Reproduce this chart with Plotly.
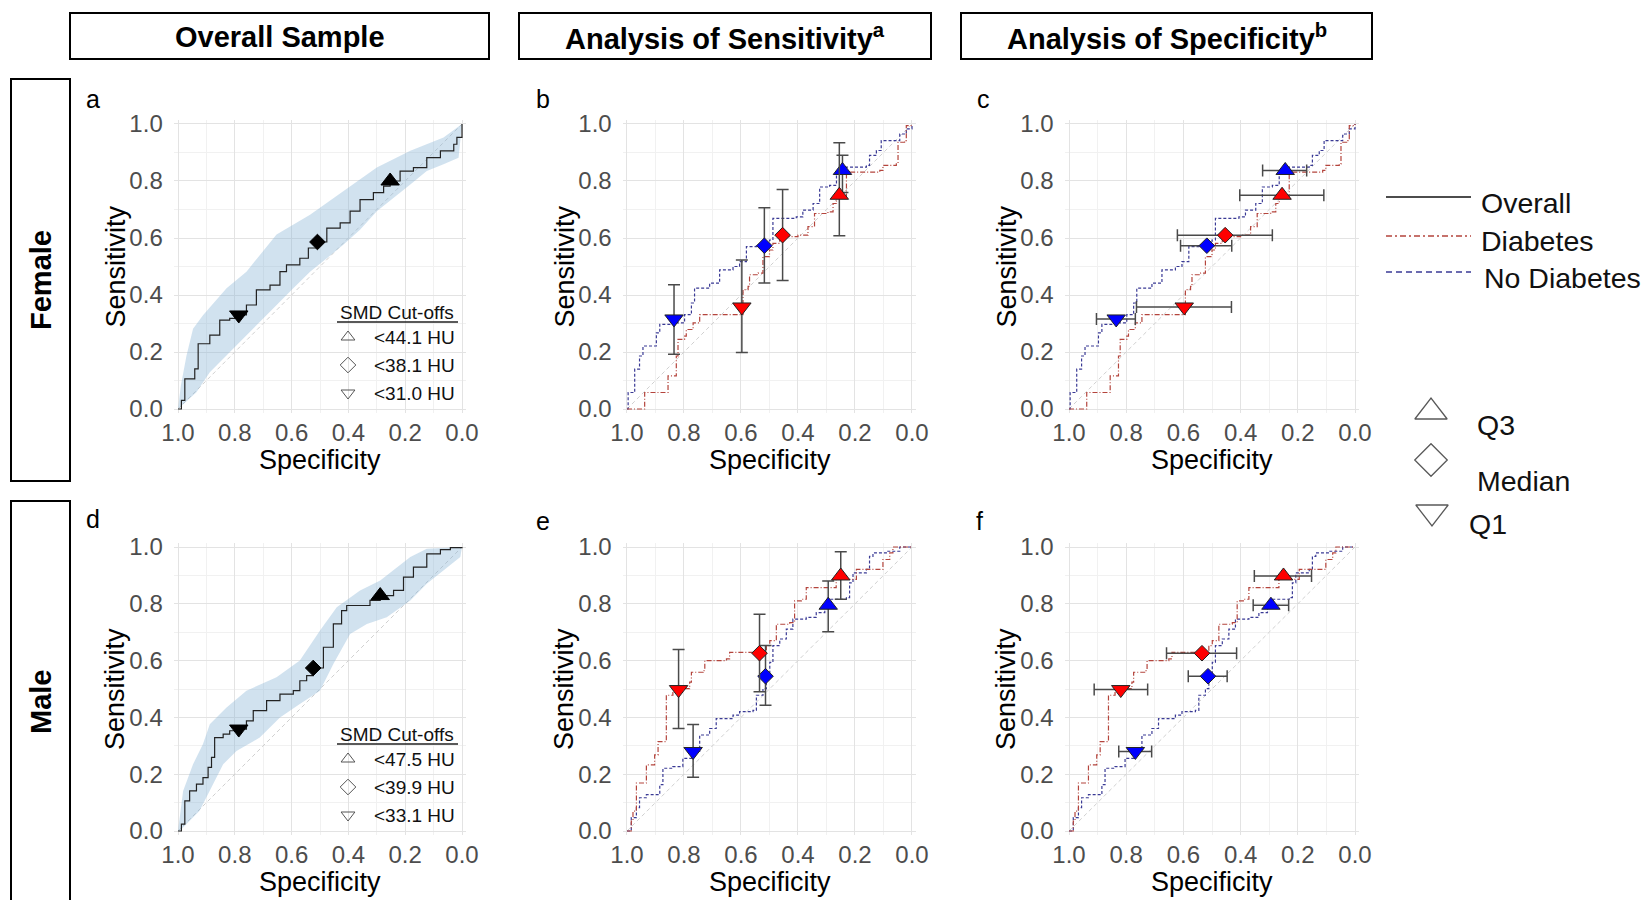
import plotly.graph_objects as go

W, H = 1648, 900

# ---------------- DATA ----------------
# Panel a: female, overall ROC (specificity, sensitivity)
fa_spec = [1.0, 0.988, 0.976, 0.941, 0.929, 0.888, 0.853, 0.818, 0.786, 0.759, 0.724, 0.676, 0.641, 0.618, 0.571, 0.541, 0.509, 0.476, 0.429, 0.394, 0.359, 0.312, 0.276, 0.253, 0.218, 0.171, 0.124, 0.076, 0.029, 0.018, 0.0]
fa_sens = [0.0, 0.03, 0.106, 0.141, 0.229, 0.259, 0.312, 0.318, 0.33, 0.365, 0.418, 0.435, 0.482, 0.506, 0.529, 0.565, 0.586, 0.635, 0.653, 0.694, 0.735, 0.759, 0.782, 0.8, 0.835, 0.847, 0.882, 0.906, 0.929, 0.953, 1.0]
fa_up_spec = [1.0, 0.99, 0.97, 0.947, 0.912, 0.829, 0.759, 0.653, 0.535, 0.418, 0.3, 0.182, 0.065, 0.0]
fa_up_sens = [0.0, 0.082, 0.188, 0.282, 0.329, 0.424, 0.482, 0.612, 0.682, 0.765, 0.847, 0.906, 0.953, 1.0]
fa_lo_spec = [1.0, 0.935, 0.888, 0.829, 0.771, 0.712, 0.653, 0.594, 0.535, 0.476, 0.418, 0.359, 0.3, 0.241, 0.182, 0.124, 0.065, 0.012, 0.0]
fa_lo_sens = [0.0, 0.059, 0.129, 0.188, 0.247, 0.306, 0.365, 0.424, 0.482, 0.529, 0.576, 0.629, 0.694, 0.741, 0.788, 0.835, 0.859, 0.882, 1.0]
fa_q_spec = [0.253, 0.509, 0.786]
fa_q_sens = [0.80, 0.586, 0.33]

# Panel d: male, overall ROC
md_spec = [1.0, 0.988, 0.976, 0.959, 0.935, 0.912, 0.894, 0.882, 0.871, 0.841, 0.818, 0.786, 0.759, 0.735, 0.688, 0.641, 0.594, 0.571, 0.547, 0.524, 0.488, 0.453, 0.424, 0.406, 0.359, 0.324, 0.288, 0.241, 0.206, 0.171, 0.124, 0.076, 0.041, 0.0]
md_sens = [0.0, 0.024, 0.106, 0.141, 0.165, 0.188, 0.224, 0.259, 0.329, 0.341, 0.353, 0.359, 0.388, 0.424, 0.459, 0.482, 0.494, 0.529, 0.547, 0.574, 0.647, 0.729, 0.776, 0.794, 0.794, 0.812, 0.829, 0.847, 0.894, 0.929, 0.976, 0.991, 0.998, 1.0]
md_up_spec = [1.0, 0.982, 0.947, 0.912, 0.888, 0.829, 0.759, 0.653, 0.571, 0.5, 0.441, 0.359, 0.288, 0.182, 0.124, 0.0]
md_up_sens = [0.0, 0.141, 0.235, 0.306, 0.376, 0.435, 0.494, 0.541, 0.6, 0.706, 0.788, 0.847, 0.882, 0.965, 0.994, 1.0]
md_lo_spec = [0.994, 0.924, 0.876, 0.841, 0.794, 0.712, 0.641, 0.571, 0.5, 0.453, 0.394, 0.335, 0.265, 0.182, 0.124, 0.065, 0.006, 0.0]
md_lo_sens = [0.0, 0.071, 0.165, 0.235, 0.282, 0.329, 0.4, 0.447, 0.494, 0.588, 0.694, 0.729, 0.753, 0.812, 0.871, 0.918, 0.965, 1.0]
md_q_spec = [0.288, 0.524, 0.786]
md_q_sens = [0.829, 0.574, 0.359]

# Female, by diabetes status (panels b, c)
f_nd_spec = [1.0, 0.996, 0.979, 0.973, 0.956, 0.944, 0.909, 0.897, 0.885, 0.839, 0.798, 0.774, 0.763, 0.71, 0.687, 0.675, 0.628, 0.605, 0.581, 0.546, 0.523, 0.5, 0.488, 0.406, 0.383, 0.347, 0.324, 0.289, 0.265, 0.23, 0.16, 0.149, 0.125, 0.108, 0.055, 0.043, 0.02, 0.0]
f_nd_sens = [0.0, 0.058, 0.058, 0.14, 0.186, 0.221, 0.221, 0.267, 0.297, 0.302, 0.331, 0.372, 0.424, 0.442, 0.442, 0.488, 0.5, 0.517, 0.57, 0.576, 0.581, 0.593, 0.669, 0.674, 0.698, 0.721, 0.779, 0.785, 0.826, 0.849, 0.855, 0.89, 0.907, 0.942, 0.942, 0.965, 0.983, 1.0]
f_d_spec = [1.0, 0.944, 0.938, 0.885, 0.856, 0.827, 0.827, 0.821, 0.798, 0.792, 0.768, 0.745, 0.611, 0.593, 0.575, 0.57, 0.54, 0.523, 0.5, 0.488, 0.464, 0.4, 0.365, 0.342, 0.295, 0.277, 0.265, 0.23, 0.113, 0.102, 0.055, 0.049, 0.026, 0.02, 0.0]
f_d_sens = [0.0, 0.0, 0.058, 0.058, 0.116, 0.116, 0.186, 0.244, 0.256, 0.279, 0.302, 0.331, 0.331, 0.419, 0.43, 0.471, 0.477, 0.535, 0.558, 0.581, 0.605, 0.61, 0.64, 0.686, 0.692, 0.721, 0.744, 0.831, 0.837, 0.855, 0.86, 0.936, 0.942, 0.994, 1.0]
f_d_q_spec = [0.255, 0.454, 0.597]
f_d_q_sens = [0.75, 0.61, 0.358]
f_nd_q_spec = [0.244, 0.518, 0.835]
f_nd_q_sens = [0.837, 0.573, 0.316]
f_d_sens_lo = [0.608, 0.451, 0.198]
f_d_sens_hi = [0.934, 0.77, 0.523]
f_nd_sens_lo = [0.76, 0.442, 0.192]
f_nd_sens_hi = [0.89, 0.706, 0.436]
f_d_spec_lo = [0.109, 0.289, 0.432]
f_d_spec_hi = [0.403, 0.621, 0.764]
f_nd_spec_lo = [0.169, 0.431, 0.768]
f_nd_spec_hi = [0.323, 0.61, 0.904]

# Male, by diabetes status (panels e, f)
m_d_spec = [1.0, 0.985, 0.979, 0.967, 0.967, 0.938, 0.932, 0.909, 0.903, 0.891, 0.868, 0.862, 0.839, 0.827, 0.78, 0.774, 0.733, 0.727, 0.651, 0.64, 0.558, 0.511, 0.499, 0.476, 0.429, 0.412, 0.388, 0.371, 0.277, 0.266, 0.195, 0.125, 0.102, 0.078, 0.067, 0.0]
m_d_sens = [0.0, 0.035, 0.07, 0.105, 0.169, 0.169, 0.233, 0.233, 0.268, 0.315, 0.315, 0.478, 0.495, 0.501, 0.524, 0.559, 0.565, 0.6, 0.606, 0.629, 0.629, 0.653, 0.67, 0.728, 0.734, 0.81, 0.816, 0.857, 0.857, 0.886, 0.921, 0.921, 0.956, 0.979, 1.0, 1.0]
m_nd_spec = [1.0, 0.985, 0.967, 0.956, 0.932, 0.903, 0.885, 0.874, 0.839, 0.804, 0.768, 0.745, 0.71, 0.687, 0.628, 0.605, 0.558, 0.546, 0.523, 0.511, 0.499, 0.488, 0.464, 0.441, 0.418, 0.371, 0.336, 0.306, 0.289, 0.23, 0.219, 0.207, 0.16, 0.149, 0.137, 0.09, 0.043, 0.0]
m_nd_sens = [0.0, 0.047, 0.082, 0.117, 0.128, 0.128, 0.163, 0.221, 0.227, 0.256, 0.28, 0.338, 0.361, 0.396, 0.408, 0.42, 0.425, 0.478, 0.501, 0.548, 0.594, 0.653, 0.676, 0.711, 0.746, 0.752, 0.769, 0.793, 0.816, 0.822, 0.874, 0.909, 0.921, 0.967, 0.979, 0.985, 1.0, 1.0]
m_d_q_spec = [0.25, 0.535, 0.819]
m_d_q_sens = [0.898, 0.626, 0.498]
m_nd_q_spec = [0.294, 0.514, 0.768]
m_nd_q_sens = [0.795, 0.545, 0.28]
m_d_sens_lo = [0.816, 0.49, 0.361]
m_d_sens_hi = [0.983, 0.763, 0.639]
m_nd_sens_lo = [0.702, 0.443, 0.189]
m_nd_sens_hi = [0.88, 0.653, 0.375]
m_d_spec_lo = [0.152, 0.414, 0.725]
m_d_spec_hi = [0.352, 0.659, 0.912]
m_nd_spec_lo = [0.232, 0.447, 0.711]
m_nd_spec_hi = [0.356, 0.583, 0.826]

quartile_symbols = ["triangle-up", "diamond", "triangle-down"]
quartile_sizes = [16, 12, 16]
quartile_labels = ["Q3", "Median", "Q1"]
female_cutoffs = ["<44.1 HU", "<38.1 HU", "<31.0 HU"]
male_cutoffs = ["<47.5 HU", "<39.9 HU", "<33.1 HU"]
col_titles = ["Overall Sample", "Analysis of Sensitivity<sup>a</sup>", "Analysis of Specificity<sup>b</sup>"]
row_titles = ["Female", "Male"]
panel_letters = ["a", "b", "c", "d", "e", "f"]
tick_vals = [0.0, 0.2, 0.4, 0.6, 0.8, 1.0]
tick_text = ["0.0", "0.2", "0.4", "0.6", "0.8", "1.0"]

# ---------------- STYLE / LAYOUT ----------------
FONT = "Liberation Sans, Arial, sans-serif"
RED_LINE = "#B4443C"
BLUE_LINE = "#3A3A95"
RED_MK = "#FF0000"
BLUE_MK = "#0000FF"
BAND = "rgba(140,182,216,0.40)"
EB = "#4A4A4A"

cols_px = [(178, 462), (627, 912), (1069, 1355)]   # page x of spec 1.0, spec 0.0
rows_px = [(124, 409), (547, 831)]                 # page y of sens 1.0, sens 0.0
EXP = 0.015


def fx(p):
    return p / W


def fy(p):
    return 1 - p / H


fig = go.Figure()
layout_axes = {}
idx = 0
for r, (y1, y0) in enumerate(rows_px):
    for c, (x1, x0) in enumerate(cols_px):
        idx += 1
        sx = "" if idx == 1 else str(idx)
        wx = x0 - x1
        wy = y0 - y1
        xl, xr = x1 - EXP * wx, x0 + EXP * wx
        yt, yb = y1 - EXP * wy, y0 + EXP * wy
        common = dict(
            tickmode="array", tickvals=tick_vals, ticktext=tick_text,
            tickfont=dict(family=FONT, size=24, color="#4D4D4D"),
            showgrid=True, gridcolor="#E3E3E3", gridwidth=1,
            minor=dict(tickvals=[0.1, 0.3, 0.5, 0.7, 0.9], showgrid=True, gridcolor="#F1F1F1", gridwidth=1),
            zeroline=False, showline=False, ticks="", automargin=False,
        )
        layout_axes["xaxis" + sx] = dict(domain=[fx(xl), fx(xr)], range=[1 + EXP, -EXP],
                                         anchor="y" + sx, ticklabelstandoff=3, **common)
        layout_axes["yaxis" + sx] = dict(domain=[fy(yb), fy(yt)], range=[-EXP, 1 + EXP],
                                         anchor="x" + sx, ticklabelstandoff=10, **common)

fig.update_layout(**layout_axes)


def ax(i):
    return ("x" if i == 1 else "x" + str(i)), ("y" if i == 1 else "y" + str(i))


# diagonal reference lines
for i in range(1, 7):
    xa, ya = ax(i)
    fig.add_trace(go.Scatter(x=[1, 0], y=[0, 1], mode="lines", xaxis=xa, yaxis=ya,
                             line=dict(color="#D0D0D0", width=1, dash="4px,3px")))

# Overall panels (a, d)
for i, (cs, cv, us, uv, ls, lv, qs, qv) in zip(
        [1, 4],
        [(fa_spec, fa_sens, fa_up_spec, fa_up_sens, fa_lo_spec, fa_lo_sens, fa_q_spec, fa_q_sens),
         (md_spec, md_sens, md_up_spec, md_up_sens, md_lo_spec, md_lo_sens, md_q_spec, md_q_sens)]):
    xa, ya = ax(i)
    fig.add_trace(go.Scatter(x=list(us) + list(ls)[::-1], y=list(uv) + list(lv)[::-1],
                             mode="lines", fill="toself", fillcolor=BAND, line=dict(width=0),
                             xaxis=xa, yaxis=ya))
    fig.add_trace(go.Scatter(x=cs, y=cv, mode="lines", line=dict(color="#222222", width=1.2, shape="hv"),
                             xaxis=xa, yaxis=ya))
    fig.add_trace(go.Scatter(x=qs, y=qv, mode="markers", xaxis=xa, yaxis=ya,
                             marker=dict(symbol=quartile_symbols, size=quartile_sizes, color="#000000",
                                         opacity=1, line=dict(color="#000000", width=1))))

# Sub-group panels
groups = [
    (2, (f_d_spec, f_d_sens), (f_nd_spec, f_nd_sens), (f_d_q_spec, f_d_q_sens), (f_nd_q_spec, f_nd_q_sens),
     "sens", (f_d_sens_lo, f_d_sens_hi), (f_nd_sens_lo, f_nd_sens_hi)),
    (3, (f_d_spec, f_d_sens), (f_nd_spec, f_nd_sens), (f_d_q_spec, f_d_q_sens), (f_nd_q_spec, f_nd_q_sens),
     "spec", (f_d_spec_lo, f_d_spec_hi), (f_nd_spec_lo, f_nd_spec_hi)),
    (5, (m_d_spec, m_d_sens), (m_nd_spec, m_nd_sens), (m_d_q_spec, m_d_q_sens), (m_nd_q_spec, m_nd_q_sens),
     "sens", (m_d_sens_lo, m_d_sens_hi), (m_nd_sens_lo, m_nd_sens_hi)),
    (6, (m_d_spec, m_d_sens), (m_nd_spec, m_nd_sens), (m_d_q_spec, m_d_q_sens), (m_nd_q_spec, m_nd_q_sens),
     "spec", (m_d_spec_lo, m_d_spec_hi), (m_nd_spec_lo, m_nd_spec_hi)),
]
for i, dcur, ndcur, dq, ndq, kind, dci, ndci in groups:
    xa, ya = ax(i)
    fig.add_trace(go.Scatter(x=ndcur[0], y=ndcur[1], mode="lines", xaxis=xa, yaxis=ya,
                             line=dict(color=BLUE_LINE, width=1.2, dash="3px,2px", shape="hv")))
    fig.add_trace(go.Scatter(x=dcur[0], y=dcur[1], mode="lines", xaxis=xa, yaxis=ya,
                             line=dict(color=RED_LINE, width=1.2, dash="5px,2px,1px,2px", shape="hv")))
    for (qs, qv), (lo, hi), col in [(ndq, ndci, BLUE_MK), (dq, dci, RED_MK)]:
        base = qv if kind == "sens" else qs
        err = dict(type="data", symmetric=False,
                   array=[h - v for h, v in zip(hi, base)],
                   arrayminus=[v - l for l, v in zip(lo, base)],
                   color=EB, thickness=1.5, width=6)
        kw = dict(error_y=err) if kind == "sens" else dict(error_x=err)
        fig.add_trace(go.Scatter(x=qs, y=qv, mode="markers", xaxis=xa, yaxis=ya,
                                 marker=dict(symbol=quartile_symbols, size=quartile_sizes, color=col,
                                             opacity=1, line=dict(color="#222222", width=1)), **kw))

# overlay (page-pixel) axes for legend keys
fig.update_layout(
    xaxis7=dict(domain=[0, 1], range=[0, W], visible=False, anchor="y7", fixedrange=True,
                automargin=False),
    yaxis7=dict(domain=[0, 1], range=[H, 0], visible=False, anchor="x7", fixedrange=True,
                automargin=False),
)

annotations = []
shapes = []

# SMD cut-off legends in panels a and d
for (y1, y0), labels in zip(rows_px, [female_cutoffs, male_cutoffs]):
    base = y0 - 97
    annotations.append(dict(x=fx(338), y=fy(base), xref="paper", yref="paper", text="SMD Cut-offs",
                             showarrow=False, xanchor="left", yanchor="middle",
                             font=dict(family=FONT, size=19, color="#111111")))
    shapes.append(dict(type="line", xref="paper", yref="paper", x0=fx(337), x1=fx(458),
                       y0=fy(base + 10), y1=fy(base + 10), line=dict(color="#222222", width=1.3)))
    ys = [base + 25, base + 53, base + 81]
    fig.add_trace(go.Scatter(x=[348, 348, 348], y=ys, mode="markers", xaxis="x7", yaxis="y7",
                             marker=dict(symbol=[s + "-open" for s in quartile_symbols], size=12,
                                         color="#555555", line=dict(width=1))))
    for yy, lab in zip(ys, labels):
        annotations.append(dict(x=fx(372), y=fy(yy), xref="paper", yref="paper", text=lab,
                                showarrow=False, xanchor="left", yanchor="middle",
                                font=dict(family=FONT, size=19, color="#111111")))

# right-hand line legend
line_leg = [("Overall", "#111111", "solid", 197, 203, 1479),
            ("Diabetes", RED_LINE, "6px,3px,2px,3px", 236, 241, 1479),
            ("No Diabetes", BLUE_LINE, "6px,4px", 272, 278, 1482)]
for lab, colr, dash, yl, yt, xt in line_leg:
    shapes.append(dict(type="line", xref="paper", yref="paper", x0=fx(1386), x1=fx(1471),
                       y0=fy(yl), y1=fy(yl), line=dict(color=colr, width=1.6, dash=dash)))
    annotations.append(dict(x=fx(xt), y=fy(yt), xref="paper", yref="paper", text=lab,
                            showarrow=False, xanchor="left", yanchor="middle",
                            font=dict(family=FONT, size=28.5, color="#111111")))

# right-hand symbol legend
fig.add_trace(go.Scatter(x=[1431, 1431, 1432], y=[412, 460, 512], mode="markers", xaxis="x7", yaxis="y7",
                         marker=dict(symbol=[s + "-open" for s in quartile_symbols], size=[28, 25, 28],
                                     color="#111111", line=dict(width=1.3))))
for lab, xt, yt in zip(quartile_labels, [1475, 1475, 1467], [425, 481, 524]):
    annotations.append(dict(x=fx(xt), y=fy(yt), xref="paper", yref="paper", text=lab,
                            showarrow=False, xanchor="left", yanchor="middle",
                            font=dict(family=FONT, size=28.5, color="#111111")))

# column header boxes
boxes = [(70, 489), (519, 931), (961, 1372)]
for (bx0, bx1), t in zip(boxes, col_titles):
    shapes.append(dict(type="rect", xref="paper", yref="paper", x0=fx(bx0), x1=fx(bx1),
                       y0=fy(59), y1=fy(13), line=dict(color="black", width=2)))
    annotations.append(dict(x=fx((bx0 + bx1) / 2), y=fy(37), xref="paper", yref="paper",
                            text="<b>" + t + "</b>", showarrow=False, xanchor="center", yanchor="middle",
                            font=dict(family=FONT, size=29, color="black")))

# row label boxes
for (by0, by1), t, ty in zip([(79, 481), (501, 915)], row_titles, [280, 702]):
    shapes.append(dict(type="rect", xref="paper", yref="paper", x0=fx(11), x1=fx(70),
                       y0=fy(by1), y1=fy(by0), line=dict(color="black", width=2)))
    annotations.append(dict(x=fx(41), y=fy(ty), xref="paper", yref="paper", text="<b>" + t + "</b>",
                            textangle=-90, showarrow=False, xanchor="center", yanchor="middle",
                            font=dict(family=FONT, size=29, color="black")))

# panel letters and axis titles
letter_pos = [(93, 99), (543, 99), (984, 99), (93, 519), (543, 521), (980, 521)]
i = 0
for r, (y1, y0) in enumerate(rows_px):
    for c, (x1, x0) in enumerate(cols_px):
        lx, ly = letter_pos[i]
        annotations.append(dict(x=fx(lx), y=fy(ly), xref="paper", yref="paper", text=panel_letters[i],
                                showarrow=False, xanchor="center", yanchor="middle",
                                font=dict(family=FONT, size=25, color="black")))
        annotations.append(dict(x=fx((x1 + x0) / 2), y=fy(y0 + 51), xref="paper", yref="paper",
                                text="Specificity", showarrow=False, xanchor="center", yanchor="middle",
                                font=dict(family=FONT, size=27, color="black")))
        annotations.append(dict(x=fx(x1 - 63), y=fy((y1 + y0) / 2), xref="paper", yref="paper",
                                text="Sensitivity", textangle=-90, showarrow=False,
                                xanchor="center", yanchor="middle",
                                font=dict(family=FONT, size=27, color="black")))
        i += 1

fig.update_layout(
    width=W, height=H, margin=dict(l=0, r=0, t=0, b=0, pad=0, autoexpand=False),
    paper_bgcolor="white", plot_bgcolor="rgba(0,0,0,0)",
    showlegend=False, annotations=annotations, shapes=shapes,
    font=dict(family=FONT), hovermode=False,
)

fig.write_html("out.html", include_plotlyjs=True, config={"displayModeBar": False},
               post_script="document.body.style.margin='0';document.body.style.overflow='hidden';")
